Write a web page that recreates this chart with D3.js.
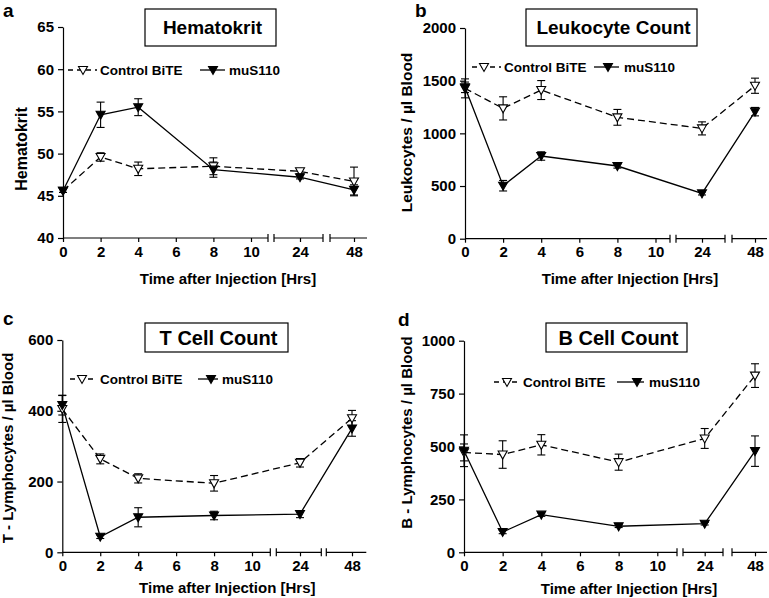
<!DOCTYPE html>
<html>
<head>
<meta charset="utf-8">
<script src="https://cdn.jsdelivr.net/npm/d3@7"></script>
<style>
  html, body { margin: 0; padding: 0; background: #fff; }
  svg { display: block; }
  text { font-family: "Liberation Sans", Arial, sans-serif; font-weight: bold; fill: #000; }
</style>
</head>
<body>
<svg id="chart" width="769" height="598"></svg>
<script>
// ---------------- DATA ----------------
const hours = [0, 2, 4, 8, 24, 48];
const xTickLabels = ["0", "2", "4", "6", "8", "10", "24", "48"];
const seriesNames = ["Control BiTE", "muS110"];

// a: Hematokrit
const hematoControl    = [45.6, 49.6, 48.2, 48.5, 47.9, 46.7];
const hematoControlErr = [0.2, 0.5, 0.8, 1.0, 0.3, 1.7];
const hematoMus        = [45.6, 54.6, 55.5, 48.1, 47.2, 45.7];
const hematoMusErr     = [0.2, 1.5, 1.0, 0.9, 0.2, 0.6];
const hematoTicks      = [40, 45, 50, 55, 60, 65];

// b: Leukocyte count
const leukoControl    = [1427, 1237, 1411, 1152, 1047, 1452];
const leukoControlErr = [90, 110, 90, 75, 62, 72];
const leukoMus        = [1437, 503, 785, 690, 430, 1206];
const leukoMusErr     = [50, 50, 40, 20, 15, 40];
const leukoTicks      = [0, 500, 1000, 1500, 2000];

// c: T cell count
const tControl    = [405, 264, 209, 195, 253, 379];
const tControlErr = [38, 14, 13, 22, 12, 22];
const tMus        = [416, 44, 99, 104, 108, 350];
const tMusErr     = [28, 5, 27, 12, 10, 22];
const tTicks      = [0, 200, 400, 600];

// d: B cell count
const bControl    = [472, 462, 508, 426, 538, 835];
const bControlErr = [40, 65, 48, 38, 47, 56];
const bMus        = [480, 96, 178, 123, 135, 478];
const bMusErr     = [75, 8, 8, 6, 6, 72];
const bTicks      = [0, 250, 500, 750, 1000];

// ---------------- LAYOUT ----------------
const panels = [
  { letter: "a", lx: 3, ly: 17, title: "Hematokrit", titleSize: 19,
    box: [145, 9, 131, 37], yLabel: "Hematokrit", yLabX: 26.5, yLabY: 149, yLabSize: 16,
    x0: 63, xr: [188, 237, 291], yDomain: [40, 65], yRange: [238, 27], ticks: hematoTicks,
    segs: [[0, 205], [211, 260], [267, 304]],
    control: hematoControl, controlErr: hematoControlErr, mus: hematoMus, musErr: hematoMusErr,
    leg: { y: 70, c: [68, 97, 83, 100], m: [200, 225, 213, 229] }, xTitleY: 284 },
  { letter: "b", lx: 415, ly: 17, title: "Leukocyte Count", titleSize: 19,
    box: [526, 9, 171, 37], yLabel: "Leukocytes / µl Blood", yLabX: 412, yLabY: 132.5, yLabSize: 15.5,
    x0: 465, xr: [190.5, 237, 290], yDomain: [0, 2000], yRange: [238.7, 28], ticks: leukoTicks,
    segs: [[0, 205], [211, 260], [267, 302]],
    control: leukoControl, controlErr: leukoControlErr, mus: leukoMus, musErr: leukoMusErr,
    leg: { y: 67, c: [472, 501, 484, 504], m: [594, 619, 608, 624] }, xTitleY: 284 },
  { letter: "c", lx: 3, ly: 325, title: "T Cell Count", titleSize: 20,
    box: [145, 323, 143, 29], yLabel: "T - Lymphocytes / µl Blood", yLabX: 13.3, yLabY: 448, yLabSize: 15,
    x0: 62.3, xr: [189.7, 237.7, 289.7], yDomain: [0, 600], yRange: [552.3, 340], ticks: tTicks,
    segs: [[0, 208], [214, 259], [264, 304]],
    control: tControl, controlErr: tControlErr, mus: tMus, musErr: tMusErr,
    leg: { y: 379, c: [70, 97, 82, 100], m: [198, 218, 211, 222] }, xTitleY: 593 },
  { letter: "d", lx: 398, ly: 326, title: "B Cell Count", titleSize: 20,
    box: [546, 323, 141, 29], yLabel: "B - Lymphocytes / µl Blood", yLabX: 412, yLabY: 432.5, yLabSize: 15,
    x0: 464, xr: [193.3, 240.7, 291], yDomain: [0, 1000], yRange: [552.3, 340.7], ticks: bTicks,
    segs: [[0, 213], [219, 259], [268, 303]],
    control: bControl, controlErr: bControlErr, mus: bMus, musErr: bMusErr,
    leg: { y: 382, c: [494, 520, 507, 523], m: [617, 644, 637, 649] }, xTitleY: 594 }
];

const svg = d3.select("#chart");
const FONT = '"Liberation Sans", Arial, sans-serif';

function triPath() {
  return d3.line()([[-4.5, -3.5], [4.5, -3.5], [0, 4.5]]) + "Z";
}

function drawMarker(g, x, y, filled) {
  g.append("path")
    .attr("d", triPath())
    .attr("transform", `translate(${x},${y})`)
    .attr("fill", filled ? "#000" : "#fff")
    .attr("stroke", "#000")
    .attr("stroke-width", 1.1);
}

panels.forEach(p => {
  const g = svg.append("g");
  const x = d3.scaleLinear().domain([0, 10, 24, 48])
    .range([p.x0, p.x0 + p.xr[0], p.x0 + p.xr[1], p.x0 + p.xr[2]]);
  const y = d3.scaleLinear().domain(p.yDomain).range(p.yRange);
  const yBase = p.yRange[0];

  // y axis
  const ya = g.append("g").attr("transform", `translate(${p.x0},0)`)
    .call(d3.axisLeft(y).tickValues(p.ticks).tickFormat(d3.format("d"))
      .tickSize(5).tickSizeOuter(0).tickPadding(4));
  ya.selectAll("text").style("font-size", "15px").style("font-family", FONT).style("font-weight", "bold");
  ya.selectAll("line, path").attr("stroke", "#000").attr("stroke-width", 1.2);

  // x axis (broken)
  const xa = g.append("g").attr("transform", `translate(0,${yBase})`)
    .call(d3.axisBottom(x).tickValues([0, 2, 4, 6, 8, 10, 24, 48])
      .tickFormat((d, i) => xTickLabels[i]).tickSize(4).tickSizeOuter(0).tickPadding(4));
  xa.select(".domain").remove();
  xa.selectAll("text").style("font-size", "15px").style("font-family", FONT).style("font-weight", "bold");
  xa.selectAll("line").attr("stroke", "#000").attr("stroke-width", 1.2);
  p.segs.forEach((s, i) => {
    const a = p.x0 + s[0], b = p.x0 + s[1];
    g.append("line").attr("x1", a).attr("x2", b).attr("y1", yBase).attr("y2", yBase)
      .attr("stroke", "#000").attr("stroke-width", 1.2);
    if (i > 0) g.append("line").attr("x1", a).attr("x2", a).attr("y1", yBase - 4).attr("y2", yBase + 4)
      .attr("stroke", "#000").attr("stroke-width", 1.2);
    if (i < 2) g.append("line").attr("x1", b).attr("x2", b).attr("y1", yBase - 4).attr("y2", yBase + 4)
      .attr("stroke", "#000").attr("stroke-width", 1.2);
  });

  // axis titles
  g.append("text").attr("x", p.x0 + 165).attr("y", p.xTitleY).attr("text-anchor", "middle")
    .style("font-size", "15px").text("Time after Injection [Hrs]");
  g.append("text").attr("transform", `translate(${p.yLabX},${p.yLabY}) rotate(-90)`)
    .attr("text-anchor", "middle").style("font-size", p.yLabSize + "px").text(p.yLabel);

  // panel letter
  g.append("text").attr("x", p.lx).attr("y", p.ly).style("font-size", "19px").text(p.letter);

  // title box
  g.append("rect").attr("x", p.box[0]).attr("y", p.box[1]).attr("width", p.box[2]).attr("height", p.box[3])
    .attr("fill", "#fff").attr("stroke", "#000").attr("stroke-width", 1.2);
  g.append("text").attr("x", p.box[0] + p.box[2] / 2 + 2).attr("y", p.box[1] + p.box[3] / 2)
    .attr("dy", "0.36em").attr("text-anchor", "middle").style("font-size", p.titleSize + "px").text(p.title);

  // series
  const series = [
    { vals: p.control, err: p.controlErr, dash: "7,4", filled: false },
    { vals: p.mus, err: p.musErr, dash: null, filled: true }
  ];
  const line = d3.line().x((d, i) => x(hours[i])).y(d => y(d));
  series.forEach(s => {
    g.append("path").datum(s.vals).attr("d", line).attr("fill", "none")
      .attr("stroke", "#000").attr("stroke-width", 1.3)
      .attr("stroke-dasharray", s.dash);
  });
  series.forEach(s => {
    s.vals.forEach((v, i) => {
      const cx = x(hours[i]);
      const e = s.err[i];
      const y1 = y(v + e), y2 = y(Math.max(v - e, p.yDomain[0]));
      g.append("line").attr("x1", cx).attr("x2", cx).attr("y1", y1).attr("y2", y2)
        .attr("stroke", "#000").attr("stroke-width", 1.1);
      [v + e, v - e].forEach(ev => {
        if (ev < p.yDomain[0]) return;
        g.append("line").attr("x1", cx - 4).attr("x2", cx + 4).attr("y1", y(ev)).attr("y2", y(ev))
          .attr("stroke", "#000").attr("stroke-width", 1.1);
      });
    });
  });
  series.forEach(s => {
    s.vals.forEach((v, i) => drawMarker(g, x(hours[i]), y(v), s.filled));
  });

  // legend
  const L = p.leg;
  g.append("line").attr("x1", L.c[0]).attr("x2", L.c[1]).attr("y1", L.y).attr("y2", L.y)
    .attr("stroke", "#000").attr("stroke-width", 1.3).attr("stroke-dasharray", "5,4");
  drawMarker(g, L.c[2], L.y, false);
  g.append("text").attr("x", L.c[3]).attr("y", L.y).attr("dy", "0.36em").style("font-size", "13.5px").text(seriesNames[0]);
  g.append("line").attr("x1", L.m[0]).attr("x2", L.m[1]).attr("y1", L.y).attr("y2", L.y)
    .attr("stroke", "#000").attr("stroke-width", 1.3);
  drawMarker(g, L.m[2], L.y, true);
  g.append("text").attr("x", L.m[3]).attr("y", L.y).attr("dy", "0.36em").style("font-size", "13.5px").text(seriesNames[1]);
});
</script>
</body>
</html>
